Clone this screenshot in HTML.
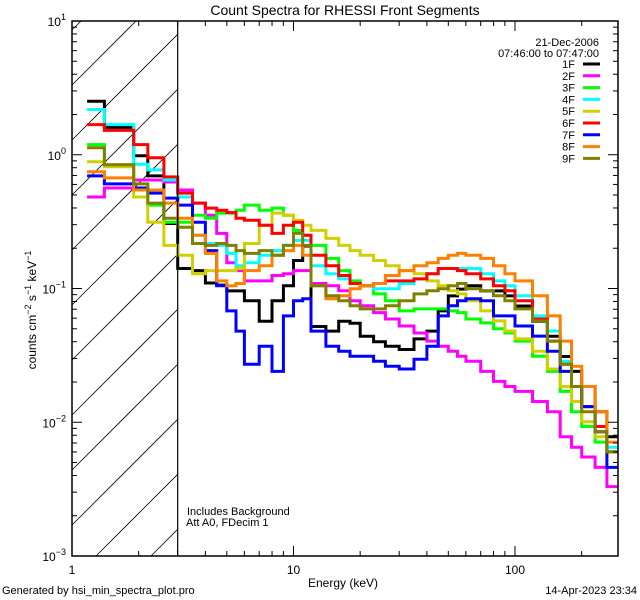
<!DOCTYPE html>
<html><head><meta charset="utf-8"><style>
html,body{margin:0;padding:0;background:#fff;width:640px;height:600px;overflow:hidden;}
svg{display:block;font-family:"Liberation Sans",sans-serif;}
</style></head><body>
<svg id="chart" width="640" height="600" viewBox="0 0 640 600" xmlns="http://www.w3.org/2000/svg">
<rect x="0" y="0" width="640" height="600" fill="#fff"/>
<text x="345" y="15" font-size="14" text-anchor="middle">Count Spectra for RHESSI Front Segments</text>
<defs><clipPath id="pclip"><rect x="72" y="21" width="546" height="535"/></clipPath></defs>
<g id="hatch"></g>
<g id="series" clip-path="url(#pclip)"></g>
<g id="axes"></g>
<text x="343" y="587" font-size="12" text-anchor="middle">Energy (keV)</text>
<text transform="translate(36,310) rotate(-90)" font-size="12" text-anchor="middle">counts cm<tspan dy="-5" font-size="9">−2</tspan><tspan dy="5"> s</tspan><tspan dy="-5" font-size="9">−1</tspan><tspan dy="5"> keV</tspan><tspan dy="-5" font-size="9">−1</tspan></text>
<text x="599" y="46" font-size="11" text-anchor="end">21-Dec-2006</text>
<text x="599" y="57" font-size="11" text-anchor="end">07:46:00 to 07:47:00</text>
<g id="legend"></g>
<text x="187" y="515" font-size="11">Includes Background</text>
<text x="186" y="526" font-size="11">Att A0, FDecim 1</text>
<text x="2" y="594" font-size="11">Generated by hsi_min_spectra_plot.pro</text>
<text x="637" y="594" font-size="11" text-anchor="end">14-Apr-2023 23:34</text>
</svg>
<script>
const energies=[1.17,1.4,1.6,1.9,2.2,2.6,3,3.5,4,4.5,5,5.5,6,7,8,9,10,11,12,14,16,18,20,23,26,30,35,40,45,50,55,60,70,80,90,100,120,140,160,180,200,230,260];
const energyEnd=297;
const seriesNames=["1F","2F","3F","4F","5F","6F","7F","8F","9F"];
const seriesColors=["#000000","#ff00ff","#00ff00","#00ffff","#d0d000","#ff0000","#0000ff","#ff8000","#808000"];
const s1F=[2.51,1.60,1.60,0.983,0.695,0.306,0.141,0.136,0.110,0.106,0.096,0.096,0.081,0.057,0.081,0.105,0.162,0.208,0.052,0.048,0.057,0.055,0.044,0.040,0.037,0.035,0.042,0.048,0.068,0.088,0.099,0.105,0.096,0.096,0.088,0.074,0.057,0.044,0.031,0.024,0.0185,0.012,0.0078];
const s2F=[0.483,0.564,0.564,0.648,0.648,0.626,0.545,0.435,0.353,0.258,0.156,0.136,0.114,0.114,0.125,0.129,0.136,0.136,0.109,0.105,0.0962,0.0809,0.0742,0.066,0.0592,0.0524,0.0465,0.0404,0.037,0.034,0.0311,0.0286,0.024,0.0202,0.0185,0.017,0.0143,0.012,0.0078,0.0065,0.0055,0.0046,0.0033];
const s3F=[1.19,0.841,0.841,0.545,0.420,0.313,0.313,0.353,0.335,0.366,0.366,0.385,0.420,0.385,0.399,0.353,0.272,0.250,0.210,0.168,0.136,0.114,0.105,0.0912,0.0809,0.068,0.0704,0.0704,0.0704,0.068,0.066,0.0592,0.0553,0.050,0.0465,0.0404,0.0311,0.024,0.017,0.012,0.0093,0.0071,0.0060];
const s4F=[2.18,1.68,1.68,0.85,0.771,0.648,0.483,0.250,0.217,0.210,0.183,0.148,0.156,0.177,0.192,0.210,0.229,0.229,0.148,0.129,0.118,0.109,0.105,0.0997,0.0997,0.109,0.118,0.129,0.141,0.141,0.141,0.141,0.129,0.114,0.105,0.0882,0.0624,0.0481,0.0286,0.0185,0.0131,0.0085,0.0065];
const s5F=[0.885,0.812,0.812,0.483,0.313,0.210,0.177,0.129,0.136,0.136,0.136,0.141,0.217,0.297,0.366,0.353,0.324,0.297,0.272,0.237,0.210,0.192,0.177,0.162,0.148,0.136,0.129,0.114,0.105,0.0962,0.0912,0.0809,0.068,0.0572,0.0481,0.042,0.034,0.025,0.0185,0.0143,0.0101,0.0078,0.0060];
const s6F=[1.68,1.52,1.52,1.19,0.949,0.683,0.517,0.435,0.399,0.385,0.370,0.335,0.324,0.297,0.258,0.297,0.313,0.250,0.177,0.148,0.125,0.109,0.105,0.109,0.114,0.114,0.118,0.129,0.141,0.141,0.136,0.129,0.118,0.105,0.0962,0.0809,0.0592,0.0404,0.0271,0.0185,0.0131,0.0093,0.0060];
const s7F=[0.695,0.605,0.605,0.564,0.517,0.474,0.420,0.313,0.192,0.105,0.068,0.048,0.0271,0.037,0.024,0.0624,0.081,0.0838,0.048,0.037,0.034,0.0311,0.0311,0.0286,0.0262,0.025,0.0296,0.037,0.0624,0.0742,0.081,0.0838,0.081,0.0624,0.0624,0.0524,0.0441,0.034,0.024,0.0185,0.0131,0.0085,0.0046];
const s8F=[0.745,0.671,0.671,0.545,0.545,0.435,0.335,0.250,0.183,0.114,0.105,0.109,0.136,0.148,0.177,0.192,0.210,0.177,0.105,0.0838,0.0882,0.0997,0.105,0.109,0.125,0.136,0.148,0.156,0.168,0.177,0.183,0.177,0.168,0.148,0.129,0.114,0.0882,0.0624,0.0404,0.0262,0.0185,0.012,0.0071];
const s9F=[1.13,0.841,0.841,0.605,0.435,0.335,0.287,0.217,0.210,0.217,0.210,0.192,0.183,0.192,0.177,0.210,0.258,0.210,0.105,0.0882,0.0809,0.0742,0.0704,0.0704,0.0742,0.0809,0.0912,0.0962,0.0997,0.105,0.109,0.0997,0.0962,0.0882,0.0809,0.0704,0.0572,0.0404,0.0271,0.0185,0.012,0.0085,0.0060];
const xMajorTicks=[1,10,100];
const xTickLabels=["1","10","100"];
const yMajorExps=[-3,-2,-1,0,1];
const seriesList=[s1F,s2F,s3F,s4F,s5F,s6F,s7F,s8F,s9F];

const NS="http://www.w3.org/2000/svg";
const X0=72,X1=618,Y0=556,Y1=21;
const XD=221.5, YD=(Y0-Y1)/4;
function xs(e){return X0+XD*Math.log10(e);}
function ys(v){return Y0-YD*(Math.log10(v)+3);}
function mk(tag,attrs,parent){const el=document.createElementNS(NS,tag);for(const k in attrs)el.setAttribute(k,attrs[k]);parent.appendChild(el);return el;}

// hatch lines y = c - (x - X0), clipped to hatch box
const hatch=document.getElementById('hatch');
const HX1=xs(3);
for(let k=0;k<14;k++){const c=30+55*k;
 let xa=X0, ya=c; if(ya>Y0){xa=X0+(ya-Y0);ya=Y0;}
 let xb=HX1, yb=c-(HX1-X0); if(yb<Y1){xb=X0+(c-Y1);yb=Y1;}
 if(xa>=xb)continue;
 const ln=mk('line',{x1:xa,y1:ya,x2:xb,y2:yb,stroke:'#000','stroke-width':0.8},hatch);
 
 
}
const axes=document.getElementById('axes');
const vl=mk('line',{x1:HX1,y1:Y1,x2:HX1,y2:Y0,stroke:'#000','stroke-width':1.2},axes);



const sg=document.getElementById('series');
seriesList.forEach((vals,si)=>{
 let d='';
 for(let i=0;i<vals.length;i++){
  const xa=xs(energies[i]), xb=xs(i+1<energies.length?energies[i+1]:energyEnd), y=ys(vals[i]);
  d+=(i===0?'M':'L')+xa.toFixed(1)+' '+y.toFixed(1)+' L'+xb.toFixed(1)+' '+y.toFixed(1)+' ';
 }
 const p=mk('path',{d:d,fill:'none',stroke:seriesColors[si],'stroke-width':3,'stroke-linejoin':'miter'},sg);
 
 
});

const fr=mk('rect',{x:X0,y:Y1,width:X1-X0,height:Y0-Y1,fill:'none',stroke:'#000','stroke-width':1.5},axes);


for(let dec=1;dec<=100;dec*=10){for(let m=1;m<10;m++){const e=dec*m;if(e>297)break;const x=xs(e);const L=m===1?10:5;
 const t1=mk('line',{x1:x,y1:Y0,x2:x,y2:Y0-L,stroke:'#000','stroke-width':1},axes);
 
 
 const t2=mk('line',{x1:x,y1:Y1,x2:x,y2:Y1+L,stroke:'#000','stroke-width':1},axes);
 
 
}}
xMajorTicks.forEach((e,i)=>{const t=mk('text',{x:xs(e),y:574,'font-size':12,'text-anchor':'middle'},axes);t.textContent=xTickLabels[i];
 
 });
yMajorExps.forEach(ex=>{
 for(let m=1;m<10;m++){if(ex===1&&m>1)break;const v=m*Math.pow(10,ex);const y=ys(v);const L=m===1?10:5;
  const t1=mk('line',{x1:X0,y1:y,x2:X0+L,y2:y,stroke:'#000','stroke-width':1},axes);
  
  
  const t2=mk('line',{x1:X1,y1:y,x2:X1-L,y2:y,stroke:'#000','stroke-width':1},axes);
  
  
 }
 const y=ys(Math.pow(10,ex));
 const t=mk('text',{x:66,y:y+5,'font-size':12,'text-anchor':'end'},axes);
 t.innerHTML='10<tspan dy="-6" font-size="9">'+(ex<0?'−'+(-ex):ex)+'</tspan>';
 
 
});
const lg=document.getElementById('legend');
seriesNames.forEach((n,i)=>{const y=64+11.8*i;
 const t=mk('text',{x:575,y:y+4,'font-size':11,'text-anchor':'end'},lg);t.textContent=n;
 
 
 const l=mk('line',{x1:583,y1:y,x2:600,y2:y,stroke:seriesColors[i],'stroke-width':3},lg);
 
 
});
</script>
</body></html>
